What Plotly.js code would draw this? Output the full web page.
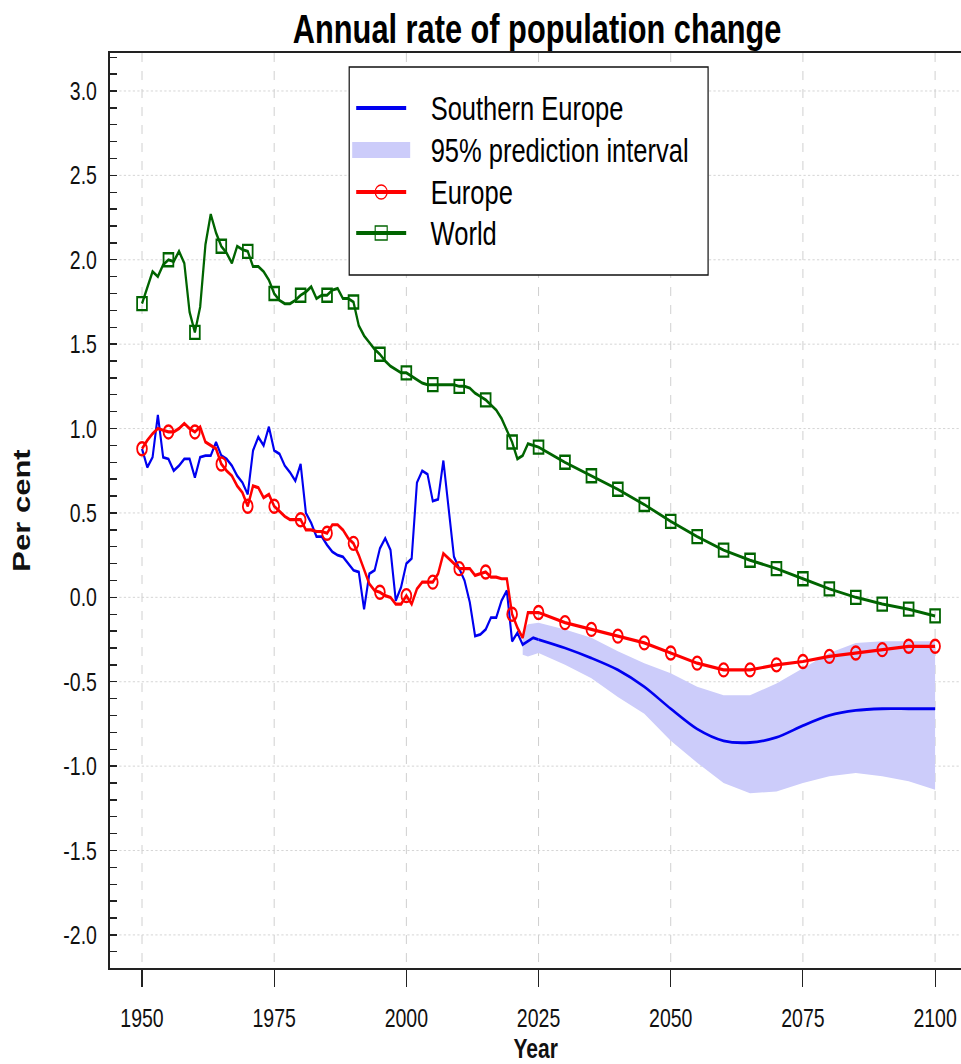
<!DOCTYPE html>
<html>
<head>
<meta charset="utf-8">
<script src="https://cdn.plot.ly/plotly-3.0.1.min.js"></script>
<style>
  html, body { margin: 0; padding: 0; background: #ffffff; overflow: hidden; }
  #wrap { width: 961px; height: 1064px; overflow: hidden; }
  #chart { width: 1281px; height: 1064px; transform: scaleX(0.7502); transform-origin: 0 0; }
</style>
</head>
<body>
<div id="wrap"><div id="chart"></div></div>
<script>
// ---------------- DATA ----------------
function range(a, b, step) { const r = []; for (let v = a; v <= b; v += step) r.push(v); return r; }

// Historical (annual) years and projection (5-year) years
const histYears = range(1950, 2024, 1);
const projYears = range(2025, 2100, 5);

// World, per cent
const worldHist = [
  1.74, 1.83, 1.93, 1.90, 1.97, 2.00, 1.99, 2.05, 1.98, 1.69,
  1.57, 1.72, 2.09, 2.27, 2.16, 2.08, 2.04, 1.98, 2.08, 2.06,
  2.05, 1.96, 1.96, 1.93, 1.88, 1.80, 1.76, 1.74, 1.74, 1.76,
  1.79, 1.81, 1.84, 1.77, 1.79, 1.79, 1.82, 1.83, 1.77, 1.77,
  1.75, 1.61, 1.55, 1.51, 1.47, 1.44, 1.40, 1.37, 1.35, 1.33,
  1.33, 1.31, 1.29, 1.27, 1.26, 1.26, 1.26, 1.26, 1.26, 1.26,
  1.25, 1.25, 1.24, 1.21, 1.19, 1.17, 1.14, 1.11, 1.06, 0.99,
  0.92, 0.82, 0.84, 0.91, 0.90
];
const worldProj = [0.89, 0.80, 0.72, 0.64, 0.55, 0.45, 0.36, 0.28, 0.22, 0.17, 0.11, 0.05, 0.00, -0.04, -0.07, -0.11];

// Europe, per cent
const europeHist = [
  0.88, 0.93, 0.97, 1.00, 0.99, 0.98, 0.98, 1.00, 1.03, 1.00,
  0.98, 1.01, 0.92, 0.90, 0.88, 0.79, 0.75, 0.72, 0.66, 0.62,
  0.54, 0.66, 0.65, 0.59, 0.61, 0.54, 0.51, 0.48, 0.46, 0.46,
  0.46, 0.40, 0.40, 0.39, 0.39, 0.38, 0.43, 0.43, 0.40, 0.35,
  0.32, 0.25, 0.17, 0.08, 0.04, 0.03, 0.01, 0.00, -0.04, -0.04,
  0.01, -0.04, 0.05, 0.09, 0.09, 0.09, 0.14, 0.26, 0.23, 0.20,
  0.17, 0.17, 0.17, 0.13, 0.14, 0.15, 0.12, 0.12, 0.11, 0.11,
  -0.10, -0.18, -0.24, -0.09, -0.09
];
const europeProj = [-0.09, -0.15, -0.19, -0.23, -0.27, -0.33, -0.39, -0.43, -0.43, -0.40, -0.38, -0.35, -0.33, -0.31, -0.29, -0.29];

// Southern Europe, per cent
const southHist = [
  0.88, 0.77, 0.83, 1.08, 0.83, 0.82, 0.75, 0.78, 0.82, 0.82,
  0.71, 0.83, 0.84, 0.84, 0.92, 0.84, 0.82, 0.78, 0.72, 0.68,
  0.61, 0.87, 0.95, 0.90, 1.01, 0.87, 0.85, 0.78, 0.74, 0.69,
  0.79, 0.50, 0.44, 0.36, 0.36, 0.31, 0.27, 0.25, 0.24, 0.20,
  0.16, 0.15, -0.07, 0.14, 0.16, 0.29, 0.35, 0.28, -0.02, 0.06,
  0.20, 0.23, 0.68, 0.75, 0.73, 0.57, 0.58, 0.81, 0.52, 0.24,
  0.17, 0.10, -0.03, -0.23, -0.22, -0.19, -0.12, -0.12, -0.02, 0.04,
  -0.26, -0.21, -0.28, -0.26, -0.24
];
const southProj = [-0.25, -0.30, -0.36, -0.43, -0.53, -0.66, -0.78, -0.85, -0.86, -0.83, -0.76, -0.70, -0.67, -0.66, -0.66, -0.66];

// 95% prediction interval for Southern Europe
const bandYears = [2022, 2023, 2025, 2030, 2035, 2040, 2045, 2050, 2055, 2060, 2065, 2070, 2075, 2080, 2085, 2090, 2095, 2100];
const bandUpper = [-0.20, -0.16, -0.15, -0.19, -0.24, -0.32, -0.39, -0.45, -0.53, -0.58, -0.58, -0.51, -0.42, -0.33, -0.27, -0.26, -0.26, -0.26];
const bandLower = [-0.34, -0.35, -0.33, -0.40, -0.48, -0.59, -0.69, -0.85, -0.98, -1.10, -1.16, -1.15, -1.10, -1.06, -1.04, -1.06, -1.09, -1.14];

// Axis ticks and labels
const xTicks = [1950, 1975, 2000, 2025, 2050, 2075, 2100];
const yTicks = [-2.0, -1.5, -1.0, -0.5, 0.0, 0.5, 1.0, 1.5, 2.0, 2.5, 3.0];
const legendLabels = ['Southern Europe', '95% prediction interval', 'Europe', 'World'];
const chartTitle = 'Annual rate of population change';
const xTitle = 'Year';
const yTitle = 'Per cent';

// ---------------- STYLE ----------------
// The page is drawn 1281 px wide and squeezed horizontally to 961 px (narrow lettering as in the reference).
const SQ = 0.7502;
const FW = 1281, FH = 1064;
const SANS = '"Liberation Sans", Arial, sans-serif';
const C_BLUE = '#0000f0';
const C_RED = '#ff0000';
const C_GREEN = '#006400';
const C_BAND = '#ccccfa';

const worldYears = histYears.concat(projYears);
const worldVals = worldHist.concat(worldProj);
const europeYears = histYears.concat(projYears);
const europeVals = europeHist.concat(europeProj);
const on5 = (yrs, vals) => {
  const xs = [], ys = [];
  yrs.forEach((y, i) => { if (y % 5 === 0) { xs.push(y); ys.push(vals[i]); } });
  return { xs, ys };
};
const worldM = on5(worldYears, worldVals);
const europeM = on5(europeYears, europeVals);

const traces = [
  { // prediction band
    x: bandYears.concat(bandYears.slice().reverse()),
    y: bandUpper.concat(bandLower.slice().reverse()),
    type: 'scatter', mode: 'lines', fill: 'toself', fillcolor: C_BAND,
    line: { width: 0, color: C_BAND }, hoverinfo: 'skip'
  },
  { x: histYears.concat([2025]), y: southHist.concat([southProj[0]]), type: 'scatter', mode: 'lines',
    line: { color: C_BLUE, width: 2.8 } },
  { x: projYears, y: southProj, type: 'scatter', mode: 'lines',
    line: { color: C_BLUE, width: 2.8, shape: 'spline', smoothing: 0.8 } },
  { x: europeYears, y: europeVals, type: 'scatter', mode: 'lines',
    line: { color: C_RED, width: 3.2 } },
  { x: europeM.xs, y: europeM.ys, type: 'scatter', mode: 'markers',
    marker: { symbol: 'circle-open', size: 13, color: C_RED, line: { width: 2.4, color: C_RED } } },
  { x: worldYears, y: worldVals, type: 'scatter', mode: 'lines',
    line: { color: C_GREEN, width: 3 } },
  { x: worldM.xs, y: worldM.ys, type: 'scatter', mode: 'markers',
    marker: { symbol: 'square-open', size: 13, color: C_GREEN, line: { width: 2.4, color: C_GREEN } } }
];

// ---------------- LEGEND (drawn as shapes + annotations) ----------------
// target-pixel helpers (paper fractions do not change under the horizontal squeeze)
const TL = 110, TR = 961, TT = 53, TB = 968;
const px = v => (v - TL) / (TR - TL);
const py = v => (TB - v) / (TB - TT);

const legRows = [108, 150, 192, 233];
const symX0 = 356, symX1 = 406, symMid = 381, textX = 429;
const shapes = [
  { type: 'rect', xref: 'paper', yref: 'paper', x0: px(349), x1: px(708), y0: py(275), y1: py(67),
    fillcolor: '#ffffff', line: { color: '#111', width: 1.6 }, layer: 'above' },
  { type: 'line', xref: 'paper', yref: 'paper', x0: px(symX0), x1: px(symX1), y0: py(legRows[0]), y1: py(legRows[0]),
    line: { color: C_BLUE, width: 4 }, layer: 'above' },
  { type: 'rect', xref: 'paper', yref: 'paper', x0: px(352), x1: px(410), y0: py(legRows[1] + 8), y1: py(legRows[1] - 8),
    fillcolor: C_BAND, line: { width: 0 }, layer: 'above' },
  { type: 'line', xref: 'paper', yref: 'paper', x0: px(symX0), x1: px(symX1), y0: py(legRows[2]), y1: py(legRows[2]),
    line: { color: C_RED, width: 4 }, layer: 'above' },
  { type: 'circle', xref: 'paper', yref: 'paper', xsizemode: 'pixel', ysizemode: 'pixel',
    xanchor: px(symMid), yanchor: py(legRows[2]), x0: -8, x1: 8, y0: -7, y1: 7,
    fillcolor: 'rgba(0,0,0,0)', line: { color: C_RED, width: 1.5 }, layer: 'above' },
  { type: 'line', xref: 'paper', yref: 'paper', x0: px(symX0), x1: px(symX1), y0: py(legRows[3]), y1: py(legRows[3]),
    line: { color: C_GREEN, width: 4 }, layer: 'above' },
  { type: 'rect', xref: 'paper', yref: 'paper', xsizemode: 'pixel', ysizemode: 'pixel',
    xanchor: px(symMid), yanchor: py(legRows[3]), x0: -8, x1: 8, y0: -7, y1: 7,
    fillcolor: 'rgba(0,0,0,0)', line: { color: C_GREEN, width: 1.5 }, layer: 'above' }
];
const annotations = legendLabels.map((t, i) => ({
  text: t, xref: 'paper', yref: 'paper', x: px(textX), y: py(legRows[i]),
  xanchor: 'left', yanchor: 'middle', showarrow: false,
  font: { family: SANS, size: 34, color: '#000' }
}));

const layout = {
  width: FW, height: FH,
  margin: { l: TL / SQ, r: 0, t: TT, b: FH - TB },
  paper_bgcolor: '#ffffff', plot_bgcolor: '#ffffff',
  showlegend: false,
  title: { text: chartTitle, x: px(537), xref: 'paper', xanchor: 'center', y: 1 - 29 / FH, yref: 'container', yanchor: 'middle',
    font: { family: SANS, size: 41, color: '#000', weight: 'bold' } },
  xaxis: {
    range: [1944.0, 2104.9], tickmode: 'array', tickvals: xTicks, ticktext: xTicks.map(String),
    ticks: 'outside', ticklen: 17, tickwidth: 1.4, tickcolor: '#222', ticklabelstandoff: 9,
    ticklabeloverflow: 'allow',
    showline: true, linecolor: '#222', linewidth: 2, mirror: true,
    showgrid: true, gridcolor: '#cfcfcf', gridwidth: 1.3, griddash: 'dash', zeroline: false,
    tickfont: { family: SANS, size: 26, color: '#111' },
    title: { text: xTitle, standoff: 10, font: { family: SANS, size: 28, color: '#111', weight: 'bold' } }
  },
  yaxis: {
    range: [-2.196, 3.225], tickmode: 'array', tickvals: yTicks, ticktext: yTicks.map(v => v.toFixed(1)),
    ticks: 'inside', ticklen: 9, tickwidth: 1.4, tickcolor: '#222', ticklabelstandoff: 10,
    minor: { dtick: 0.1, tick0: 0, ticks: 'inside', ticklen: 9, tickwidth: 1.4, tickcolor: '#222', showgrid: false },
    showline: true, linecolor: '#222', linewidth: 2.6,
    showgrid: true, gridcolor: '#cfcfcf', gridwidth: 1, griddash: 'dot', zeroline: false,
    tickfont: { family: SANS, size: 26, color: '#111' },
    title: { text: yTitle, standoff: 35, font: { family: SANS, size: 31, color: '#111', weight: 'bold' } }
  },
  shapes: shapes,
  annotations: annotations
};

Plotly.newPlot('chart', traces, layout, { displayModeBar: false, staticPlot: true });
</script>
</body>
</html>
